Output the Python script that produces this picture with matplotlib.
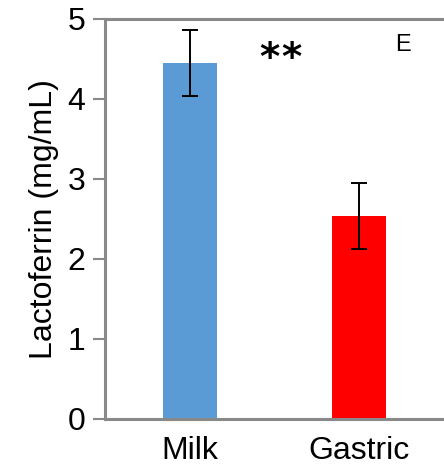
import matplotlib
matplotlib.use('Agg')
import matplotlib.pyplot as plt

plt.rcParams['font.family'] = ['Liberation Sans', 'DejaVu Sans']

groups = ['Milk', 'Gastric']
lactoferrin = [4.45, 2.54]
errors = [0.415, 0.415]
colors = ['#5B9BD5', '#FF0000']

fig = plt.figure(figsize=(4.44, 4.72), dpi=100)
ax = fig.add_axes([0.2365, 0.1123, 0.7635, 0.8475])

x = range(len(groups))
ax.bar(x, lactoferrin, width=0.32, color=colors, zorder=2)
ax.errorbar(x, lactoferrin, yerr=errors, fmt='none', ecolor='black',
            elinewidth=1.4, capsize=6, capthick=1.4, zorder=3)

ax.set_xlim(-0.5, 1.5)
ax.set_ylim(0, 5)
ax.set_yticks([0, 1, 2, 3, 4, 5])
ax.set_xticks(list(x))
ax.set_xticklabels(groups)
ax.axhline(5, color='#898989', lw=2.2, clip_on=False, zorder=1)

for side in ['top', 'right']:
    ax.spines[side].set_visible(False)
for side in ['left', 'bottom']:
    ax.spines[side].set_color('#898989')
    ax.spines[side].set_linewidth(2.2)

ax.tick_params(axis='y', length=9, width=1.5, color='#898989', labelsize=23, pad=5)
ax.tick_params(axis='x', length=0, labelsize=23, pad=12)
ax.set_ylabel('Lactoferrin (mg/mL)', fontsize=23, labelpad=6)

# significance marker (two separate stars) and panel letter
for sx in (0.47, 0.60):
    ax.text(sx, 4.5, '*', fontsize=28, ha='center', va='center',
            fontweight='bold', family='DejaVu Sans')
ax.text(1.26, 4.68, 'E', fontsize=17, ha='center', va='center')

fig.savefig('out.png', dpi=100)
